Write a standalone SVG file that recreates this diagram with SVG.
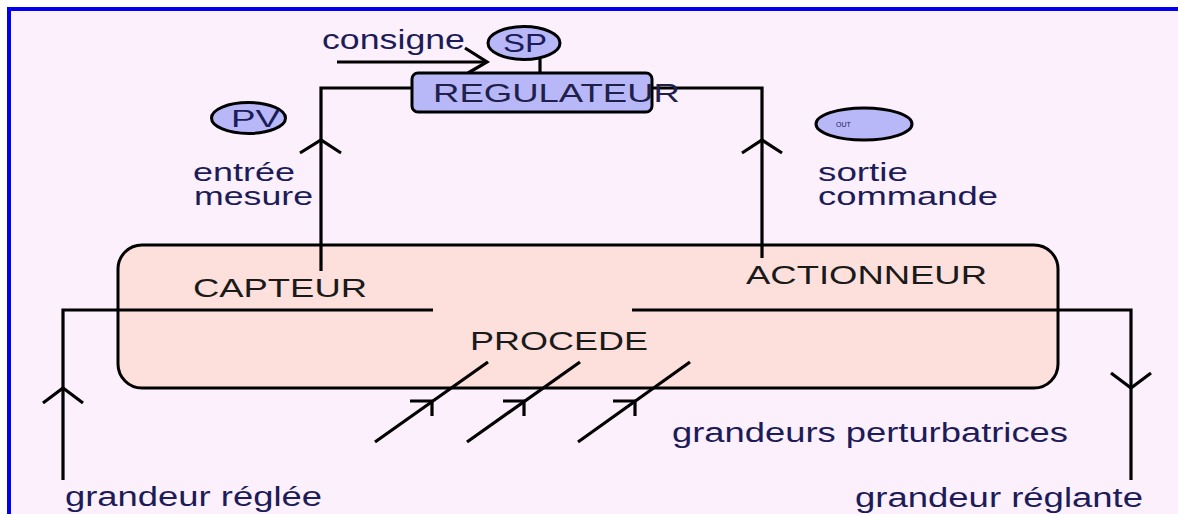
<svg xmlns="http://www.w3.org/2000/svg" width="1178" height="514" viewBox="0 0 1178 514">
<style>
.ln{fill:none;stroke:#000;stroke-width:3.2;stroke-linecap:butt;stroke-linejoin:miter}
.lbl{font-family:"Liberation Sans",Arial,sans-serif;font-size:27px;fill:#1c1c58}
.two{font-size:25px}
.cap{font-family:"Liberation Sans",Arial,sans-serif;font-size:26px;fill:#1a1a1a}
.ell{fill:#b8b8f8;stroke:#000;stroke-width:3}
</style>
<rect x="0" y="0" width="1178" height="514" fill="#ffffff"/>
<rect x="7" y="7" width="1171" height="507" fill="#fdf0fd"/>
<rect x="7" y="7" width="1171" height="4" fill="#0000f0"/>
<rect x="7" y="7" width="4" height="507" fill="#0000f0"/>

<g id="procede">
<rect x="118" y="245" width="940" height="143" rx="24" ry="24" fill="#fde0dc" stroke="#000" stroke-width="3"/>
<text class="cap" x="470" y="350" textLength="178" lengthAdjust="spacingAndGlyphs">PROCEDE</text>
</g>
<g id="capteur"><text class="cap" x="193" y="297" textLength="174" lengthAdjust="spacingAndGlyphs">CAPTEUR</text></g>
<g id="actionneur"><text class="cap" x="746" y="284" textLength="241" lengthAdjust="spacingAndGlyphs">ACTIONNEUR</text></g>

<g id="connectors">
<polyline class="ln" points="412,88 321,88 321,271"/>
<polyline class="ln" points="300,153 321,140 341,153"/>
<polyline class="ln" points="652,88 762,88 762,258"/>
<polyline class="ln" points="742,153 762,140 782,153"/>
<line class="ln" x1="337" y1="62" x2="487" y2="62"/>
<polyline class="ln" points="465,48 487,62 468,73"/>
<line class="ln" x1="540" y1="59" x2="540" y2="73"/>
<polyline class="ln" points="433,310 63,310 63,480"/>
<polyline class="ln" points="43,403 63,388 83,403"/>
<polyline class="ln" points="632,310 1131,310 1131,480"/>
<polyline class="ln" points="1111,373 1131,388 1151,373"/>
<line class="ln" x1="375" y1="442" x2="488" y2="362"/>
<polyline class="ln" points="410,401 432,401 432,416"/>
<line class="ln" x1="467" y1="442" x2="580" y2="362"/>
<polyline class="ln" points="503,401 524,401 524,416"/>
<line class="ln" x1="578" y1="442" x2="690" y2="362"/>
<polyline class="ln" points="613,401 635,401 635,416"/>
</g>

<g id="regulateur">
<rect x="412" y="73" width="240" height="39" rx="6" ry="6" fill="#b8b8f8" stroke="#000" stroke-width="3"/>
<text class="lbl" x="433" y="102" textLength="247" lengthAdjust="spacingAndGlyphs" style="fill:#20204a;font-size:26px">REGULATEUR</text>
</g>
<g id="sp">
<ellipse class="ell" cx="524" cy="43" rx="36" ry="16.5"/>
<text class="lbl" x="503" y="52" textLength="44" lengthAdjust="spacingAndGlyphs" style="font-size:25px">SP</text>
</g>
<g id="consigne"><text class="lbl" x="322" y="49" textLength="143" lengthAdjust="spacingAndGlyphs">consigne</text></g>
<g id="pv">
<ellipse class="ell" cx="248.5" cy="118" rx="37" ry="15.5"/>
<text class="lbl" x="231" y="127" textLength="49" lengthAdjust="spacingAndGlyphs" style="font-size:24px">PV</text>
</g>
<g id="entree">
<text class="lbl two" x="193" y="181" textLength="102" lengthAdjust="spacingAndGlyphs">entrée</text>
<text class="lbl two" x="194" y="205" textLength="119" lengthAdjust="spacingAndGlyphs">mesure</text>
</g>
<g id="out">
<ellipse class="ell" cx="864" cy="124" rx="48" ry="16"/>
<text class="lbl" x="836" y="127" style="font-size:7px">OUT</text>
</g>
<g id="sortie">
<text class="lbl two" x="818" y="181" textLength="90" lengthAdjust="spacingAndGlyphs">sortie</text>
<text class="lbl two" x="818" y="205" textLength="180" lengthAdjust="spacingAndGlyphs">commande</text>
</g>
<g id="perturb"><text class="lbl" x="672" y="442" textLength="396" lengthAdjust="spacingAndGlyphs">grandeurs perturbatrices</text></g>
<g id="reglee"><text class="lbl" x="65" y="506" textLength="257" lengthAdjust="spacingAndGlyphs">grandeur réglée</text></g>
<g id="reglante"><text class="lbl" x="855" y="507" textLength="288" lengthAdjust="spacingAndGlyphs">grandeur réglante</text></g>
</svg>
